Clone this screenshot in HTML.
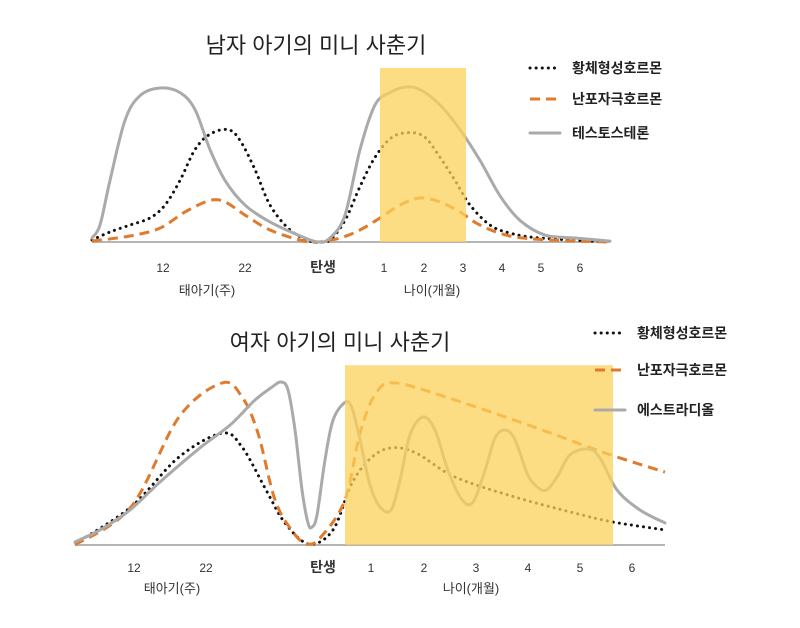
<!DOCTYPE html>
<html><head><meta charset="utf-8">
<style>
html,body{margin:0;padding:0;background:#fff;width:800px;height:628px;overflow:hidden}
svg text{font-family:"Liberation Sans","Noto Sans CJK KR","NanumGothic",sans-serif}
</style></head>
<body>
<svg id="chart" width="800" height="628" viewBox="0 0 800 628" xmlns="http://www.w3.org/2000/svg">
<rect x="0" y="0" width="800" height="628" fill="#fff"/>
<text x="316" y="53" font-size="22" text-anchor="middle" fill="#222">남자 아기의 미니 사춘기</text>
<text x="340" y="350" font-size="22" text-anchor="middle" fill="#222">여자 아기의 미니 사춘기</text>
<g id="g1"></g>
<g id="g2"></g>
</svg>
<script>
// ---- male chart data ----
const m_lh_x=[0,1.8,3.8,5.8,7.3,8.8,10.3,11.8,13.6,14.8,16.3,17.8,19.8,21.8,22.8,23.8,25.3,26.8,28.3,30,31.8,33.3,34.8,36.3,37.8,39.8,41.8,44.8,51.8];
const m_lh_y=[0.13,0.65,1.1,1.56,2.4,4.0,6.0,7.0,7.3,6.6,4.7,2.4,0.78,0.06,0,0.13,1.4,3.6,5.5,6.8,7.1,6.8,5.5,4.0,2.4,1.1,0.58,0.26,0];
const m_fsh_x=[0,3.8,6.8,9.3,11.8,13.3,15.3,17.8,20.8,22.6,24.8,26.8,28.8,30.8,32.8,34.8,36.8,38.8,41.8,45.8,51.8];
const m_fsh_y=[0.06,0.39,0.9,1.95,2.7,2.6,1.75,0.78,0.13,0,0.26,0.78,1.56,2.4,2.86,2.6,1.95,1.1,0.39,0.13,0];
const m_t_x=[0,0.8,1.8,3.3,4.8,6.8,8.8,10.3,11.8,13.3,15.3,17.8,20.8,22.6,23.8,25.3,26.8,28.3,29.8,31.3,32.8,34.8,36.8,38.8,40.8,42.8,45.3,48.3,51.8];
const m_t_y=[0.26,1.1,4.0,7.9,9.5,10,9.7,8.6,6.0,4.0,2.4,1.3,0.4,0,0.26,1.75,6.0,8.9,9.7,10.06,9.9,8.9,7.3,5.3,3.0,1.4,0.45,0.26,0.06];
const m_band=[28.8,37.4,11.3];
const m_ticks=["12","22","탄생","1","2","3","4","5","6"];
const m_tick_x=[7.1,15.3,23.1,29.2,33.2,37.1,41,44.9,48.8];
const m_legend=["황체형성호르몬","난포자극호르몬","테스토스테론"];
// ---- female chart data ----
const f_lh_x=[0.1,5.6,10.4,14.7,16.7,19.1,21,23.4,25.8,27.7,29.7,31.7,34.1,38,44,49.9,53.8,59];
const f_lh_y=[0.12,2.35,5.43,6.9,6.05,3.4,1.36,0.06,0.93,3.83,5.43,6.0,5.68,4.2,2.96,1.98,1.42,0.93];
const f_fsh_x=[0,5.6,10.4,14.7,16.7,18.3,20,21.8,23.2,24.6,27,28.5,30.1,32.1,38,45.9,53,59];
const f_fsh_y=[0,2.35,7.9,10,9.14,6.9,2.78,0.8,0.06,0.5,2.78,6.9,9.38,10,8.95,7.28,5.68,4.5];
const f_e_x=[0,2.5,5.5,8.5,12.5,15.5,18,19.7,20.6,21.3,22,22.7,23.3,23.7,24.2,25,25.8,27,27.7,28.5,29.5,30.5,31.6,32.5,33.5,34.8,36,37.3,38.7,39.8,41,42,43,44,45.3,46.5,47.3,48.3,49.5,51.3,52.5,54.2,56.5,59];
const f_e_y=[0.19,0.93,2.16,3.89,6.0,7.4,8.95,9.75,10.06,9.57,7.1,3.4,1.36,1.1,1.85,5.25,7.7,8.8,8.46,6.5,3.7,2.35,2.16,4.0,6.8,7.9,7.1,4.6,2.8,2.65,4.6,6.6,7.1,6.5,4.3,3.46,3.46,4.3,5.56,5.93,5.37,3.4,2.16,1.36];
const f_band=[27,53.8,11.1];
const f_ticks=["12","22","탄생","1","2","3","4","5","6"];
const f_tick_x=[5.9,13.1,24.8,29.6,34.9,40.1,45.3,50.5,55.7];
const f_legend=["황체형성호르몬","난포자극호르몬","에스트라디올"];

const NS="http://www.w3.org/2000/svg";
function mk(tag,attrs,parent){const e=document.createElementNS(NS,tag);for(const k in attrs)e.setAttribute(k,attrs[k]);parent.appendChild(e);return e;}
function smooth(pts){let d=`M${pts[0][0]},${pts[0][1]}`;for(let i=0;i<pts.length-1;i++){const p0=pts[Math.max(0,i-1)],p1=pts[i],p2=pts[i+1],p3=pts[Math.min(pts.length-1,i+2)];const c1x=p1[0]+(p2[0]-p0[0])/6,c1y=p1[1]+(p2[1]-p0[1])/6,c2x=p2[0]-(p3[0]-p1[0])/6,c2y=p2[1]-(p3[1]-p1[1])/6;d+=`C${c1x},${c1y} ${c2x},${c2y} ${p2[0]},${p2[1]}`;}return d;}

function drawChart(g,cfg){
  const X=v=>cfg.x0+v*cfg.xs, Y=v=>cfg.base-v*cfg.ys;
  const series=[
    {xs:cfg.lh[0],ys:cfg.lh[1],stroke:"#111",w:3,dash:"0.1 6",cap:"round",name:"lh-line"},
    {xs:cfg.fsh[0],ys:cfg.fsh[1],stroke:"#e07b2e",w:3,dash:"10 6",cap:"butt",name:"fsh-line"},
    {xs:cfg.h[0],ys:cfg.h[1],stroke:"#aaaaaa",w:3,dash:"none",cap:"round",name:cfg.hname}
  ];
  const ax=mk("line",{x1:X(0),x2:X(cfg.xmax),y1:cfg.base,y2:cfg.base,stroke:"#b5b5b5","stroke-width":2},g);
  
  
  series.forEach(s=>{
    const pts=s.xs.map((v,i)=>[X(v),Y(s.ys[i])]);
    const p=mk("path",{d:smooth(pts),fill:"none",stroke:s.stroke,"stroke-width":s.w,"stroke-dasharray":s.dash,"stroke-linecap":s.cap},g);
    
    
  });
  const b=mk("rect",{x:X(cfg.band[0]),y:Y(cfg.band[2]),width:X(cfg.band[1])-X(cfg.band[0]),height:cfg.band[2]*cfg.ys,fill:"#fcd25a","fill-opacity":0.75},g);
  
  
  cfg.ticks.forEach((t,i)=>{
    const tx=mk("text",{x:X(cfg.tickx[i]),y:cfg.tickY,"font-size":t==="탄생"?14:12,"font-weight":t==="탄생"?"bold":"normal","text-anchor":"middle",fill:"#333"},g);
    tx.textContent=t;
    
    
  });
  [[cfg.lab1x,"태아기(주)"],[cfg.lab2x,"나이(개월)"]].forEach(([x,t])=>{
    const tx=mk("text",{x:x,y:cfg.labY,"font-size":13,"text-anchor":"middle",fill:"#333"},g);
    tx.textContent=t;
    
    
  });
  cfg.legend.forEach((t,i)=>{
    const s=series[i],ly=cfg.legY[i];
    const l=mk("line",{x1:cfg.legX,x2:cfg.legX+30,y1:ly,y2:ly,stroke:s.stroke,"stroke-width":3,"stroke-dasharray":s.dash,"stroke-linecap":s.cap},g);
    
    
    const tx=mk("text",{x:cfg.legX+42,y:ly+5,"font-size":14,"font-weight":"bold",fill:"#222"},g);
    tx.textContent=t;
    
    
  });
}
drawChart(document.getElementById('g1'),{x0:92,xs:10,base:242,ys:15.4,xmax:51.8,lh:[m_lh_x,m_lh_y],fsh:[m_fsh_x,m_fsh_y],h:[m_t_x,m_t_y],hname:"testosterone-line",band:m_band,ticks:m_ticks,tickx:m_tick_x,tickY:272,lab1x:207,lab2x:432,labY:295,legend:m_legend,legX:530,legY:[68,99,133]});
drawChart(document.getElementById('g2'),{x0:75,xs:10,base:545,ys:16.2,xmax:59,lh:[f_lh_x,f_lh_y],fsh:[f_fsh_x,f_fsh_y],h:[f_e_x,f_e_y],hname:"estradiol-line",band:f_band,ticks:f_ticks,tickx:f_tick_x,tickY:572,lab1x:172,lab2x:471,labY:593,legend:f_legend,legX:595,legY:[333,370,410]});
</script>
</body></html>
